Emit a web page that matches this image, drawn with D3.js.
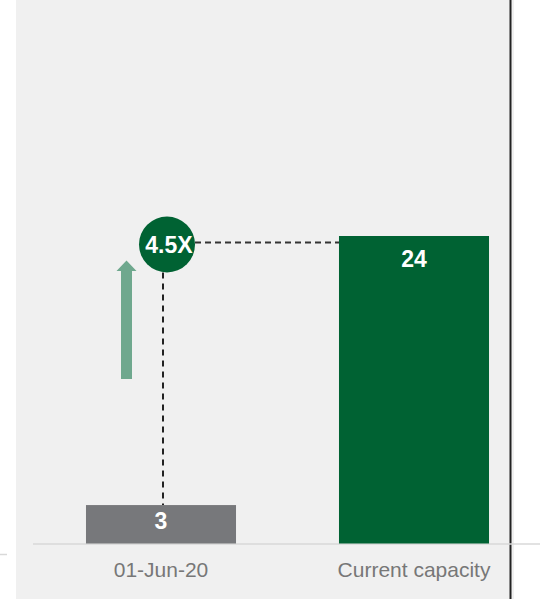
<!DOCTYPE html>
<html><head><meta charset="utf-8">
<script src="https://cdn.jsdelivr.net/npm/d3@7"></script>
<style>html,body{margin:0;padding:0;background:#fff;}svg{display:block;font-family:"Liberation Sans",Arial,sans-serif;}</style>
</head><body>
<script>
const categories = ["01-Jun-20", "Current capacity"];
const values = [3, 24];
const barColors = ["#77787b", "#006233"];
const multiplierLabel = "4.5X";

const W = 548, H = 599;
const svg = d3.select("body").append("svg").attr("width", W).attr("height", H);

// panel background
svg.append("rect").attr("x", 16).attr("y", 0).attr("width", 494).attr("height", H).attr("fill", "#f0f0f0");
svg.append("rect").attr("x", 510).attr("y", 0).attr("width", 4).attr("height", H).attr("fill", "#f0f0f0");
svg.append("line").attr("x1", 510.5).attr("x2", 510.5).attr("y1", 0).attr("y2", H).attr("stroke", "#222").attr("stroke-width", 2);

const x = d3.scaleBand().domain(categories).range([34.5, 540.5]).paddingInner(0.407).paddingOuter(0.2035);
const y = d3.scaleLinear().domain([0, 24]).range([543.5, 236]);

// baseline axis
svg.append("line").attr("x1", 33).attr("x2", 540).attr("y1", 544).attr("y2", 544).attr("stroke", "#d9d9d9").attr("stroke-width", 1.5);
svg.append("line").attr("x1", 0).attr("x2", 7).attr("y1", 554.5).attr("y2", 554.5).attr("stroke", "#d9d9d9").attr("stroke-width", 1.5);

// bars
svg.selectAll("rect.bar").data(values).enter().append("rect").attr("class", "bar")
  .attr("x", (d, i) => x(categories[i]))
  .attr("y", d => y(d))
  .attr("width", x.bandwidth())
  .attr("height", d => y(0) - y(d))
  .attr("fill", (d, i) => barColors[i]);

// value labels
svg.selectAll("text.val").data(values).enter().append("text").attr("class", "val")
  .attr("x", (d, i) => x(categories[i]) + x.bandwidth() / 2)
  .attr("y", (d, i) => i === 0 ? y(d) + 23.5 : y(d) + 31)
  .attr("text-anchor", "middle").attr("fill", "#fff").attr("font-weight", "bold").attr("font-size", 23)
  .text(d => d);

// category labels
svg.selectAll("text.cat").data(categories).enter().append("text").attr("class", "cat")
  .attr("x", d => x(d) + x.bandwidth() / 2)
  .attr("y", 577)
  .attr("text-anchor", "middle").attr("fill", "#777").attr("font-size", 21)
  .text(d => d);

// annotation
const cx = x(categories[0]) + x.bandwidth() / 2 + 6;
const cy = y(values[1]) + 8.5;
const r = 28;
const vx = x(categories[0]) + x.bandwidth() / 2 + 2;

svg.append("line").attr("x1", cx + r).attr("x2", x(categories[1])).attr("y1", y(values[1]) + 6.5).attr("y2", y(values[1]) + 6.5)
  .attr("stroke", "#333").attr("stroke-width", 2).attr("stroke-dasharray", "6,4");
svg.append("line").attr("x1", vx).attr("x2", vx).attr("y1", cy + r).attr("y2", y(values[0]))
  .attr("stroke", "#222").attr("stroke-width", 2).attr("stroke-dasharray", "6,5");

svg.append("circle").attr("cx", cx).attr("cy", cy).attr("r", r).attr("fill", "#006233");
svg.append("text").attr("x", cx + 2).attr("y", cy + 8.5).attr("text-anchor", "middle").attr("fill", "#fff")
  .attr("font-weight", "bold").attr("font-size", 23).text(multiplierLabel);

// arrow
const ax = 126.5;
svg.append("path")
  .attr("d", `M${ax - 5.5},379 L${ax - 5.5},271 L${ax - 10},271 L${ax},260.5 L${ax + 10},271 L${ax + 5.5},271 L${ax + 5.5},379 Z`)
  .attr("fill", "#6fa88e");
</script>
</body></html>
